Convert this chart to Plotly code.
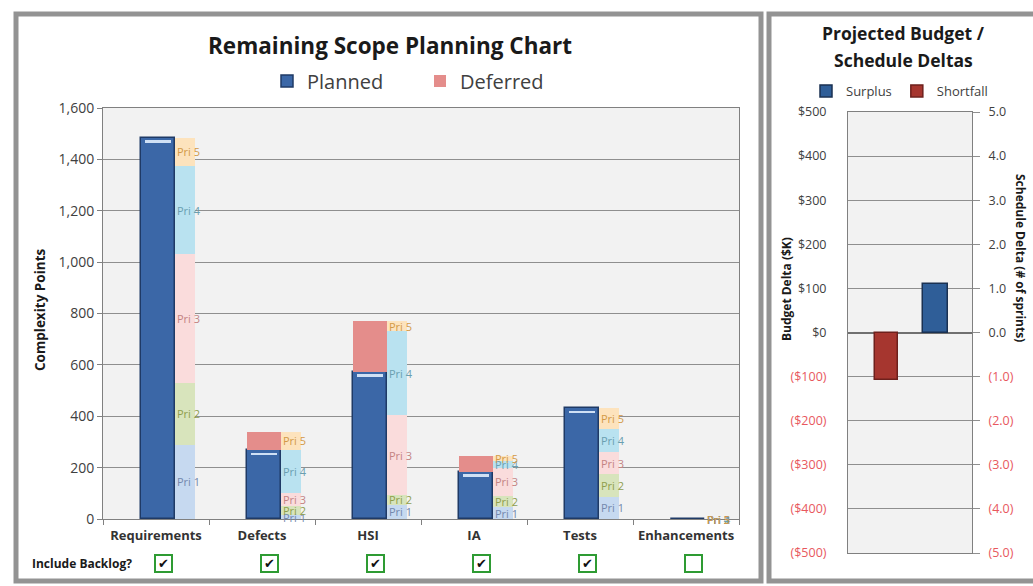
import plotly.graph_objects as go

# ---------------- data ----------------
categories = ["Requirements", "Defects", "HSI", "IA", "Tests", "Enhancements"]
planned = [1485, 268, 573, 184, 432, 0]
deferred = [0, 70, 197, 61, 0, 0]
pri_names = ["Pri 1", "Pri 2", "Pri 3", "Pri 4", "Pri 5"]
pri_values = {
    "Pri 1": [290, 15, 56, 45, 86, 0],
    "Pri 2": [240, 35, 36, 45, 89, 0],
    "Pri 3": [500, 50, 312, 110, 85, 0],
    "Pri 4": [345, 170, 326, 25, 90, 0],
    "Pri 5": [110, 68, 40, 20, 82, 0],
}
include_backlog = [True, True, True, True, True, False]
y_ticks = [0, 200, 400, 600, 800, 1000, 1200, 1400, 1600]

delta_categories = ["Budget", "Schedule"]
budget_delta_k = -108      # $K  (shortfall)
schedule_delta_sprints = 1.1  # sprints (surplus)
budget_ticks = [500, 400, 300, 200, 100, 0, -100, -200, -300, -400, -500]
sched_ticks = [5, 4, 3, 2, 1, 0, -1, -2, -3, -4, -5]

# ---------------- styling ----------------
W, H = 1033, 586
def px(x): return x / W
def py(y): return 1 - y / H

FONT = "Open Sans"
pri_fill = {"Pri 1": "#c6d9f0", "Pri 2": "#d8e4bc", "Pri 3": "#fadcdc",
            "Pri 4": "#b9e2f0", "Pri 5": "#fde3bd"}
pri_text = {"Pri 1": "#7488ad", "Pri 2": "#8f9e4c", "Pri 3": "#c48383",
            "Pri 4": "#6a9fb0", "Pri 5": "#d39a47"}

BLUE_OFF, BLUE_W = -0.144, 0.322
PRI_OFF, PRI_W = 0.178, 0.19

fig = go.Figure()

# planned
fig.add_trace(go.Bar(
    x=categories, y=planned, name="Planned", base=[0] * len(categories),
    offset=BLUE_OFF, width=BLUE_W,
    marker=dict(color="#3b67a7", line=dict(color="#1f3a66", width=1.5)),
    legend="legend", hoverinfo="skip"))
# deferred on top of planned
fig.add_trace(go.Bar(
    x=categories, y=deferred, name="Deferred", base=planned,
    offset=BLUE_OFF, width=BLUE_W,
    marker=dict(color="#e48d8b", line=dict(width=0)),
    legend="legend", hoverinfo="skip"))
# highlight strip at top of planned
hl_h = [10 if p > 0 else 0 for p in planned]
hl_base = [p - 20 if p > 0 else 0 for p in planned]
fig.add_trace(go.Bar(
    x=categories, y=hl_h, base=hl_base, offset=BLUE_OFF + 0.04, width=BLUE_W - 0.08,
    marker=dict(color="#cfe0f5", line=dict(width=0)), showlegend=False, hoverinfo="skip"))

# priority breakdown bars
cum = [0] * len(categories)
annotations = []
for pn in pri_names:
    vals = pri_values[pn]
    fig.add_trace(go.Bar(
        x=categories, y=vals, base=list(cum), offset=PRI_OFF, width=PRI_W,
        marker=dict(color=pri_fill[pn], line=dict(width=0)),
        showlegend=False, hoverinfo="skip"))
    for i, v in enumerate(vals):
        annotations.append(dict(
            x=i + PRI_OFF, y=cum[i] + v / 2, xref="x", yref="y",
            text=pn, showarrow=False, xanchor="left", yanchor="middle",
            font=dict(family=FONT, size=11, color=pri_text[pn])))
    cum = [c + v for c, v in zip(cum, vals)]

# right chart bars
fig.add_trace(go.Bar(
    x=[delta_categories[1]], y=[schedule_delta_sprints], name="Surplus",
    xaxis="x2", yaxis="y3", offset=-0.29, width=0.4,
    marker=dict(color="#2f5e98", line=dict(color="#1a3152", width=1.5)),
    legend="legend2", hoverinfo="skip"))
fig.add_trace(go.Bar(
    x=[delta_categories[0]], y=[budget_delta_k], name="Shortfall",
    xaxis="x2", yaxis="y2", offset=-0.065, width=0.37,
    marker=dict(color="#a6362f", line=dict(color="#6e201c", width=1.5)),
    legend="legend2", hoverinfo="skip"))

NEG = "#e8585e"
def money(v):
    s = "${:,}".format(abs(v))
    if v < 0:
        return "<span style='color:" + NEG + "'>(" + s + ")</span>"
    return s

def sprint(v):
    s = "{:.1f}".format(abs(v))
    if v < 0:
        return "<span style='color:" + NEG + "'>(" + s + ")</span>"
    return s

# checkboxes
for i, chk in enumerate(include_backlog):
    annotations.append(dict(
        x=i + 0.075, xref="x", y=py(563), yref="paper",
        text="✔" if chk else " ", showarrow=False,
        font=dict(family="DejaVu Sans", size=13, color="#111111"),
        bordercolor="#2e9b33", borderwidth=2, borderpad=0, bgcolor="#ffffff",
        width=15, height=15, xanchor="center", yanchor="middle"))

def label(x, y, text, size, angle=0, anchor="center"):
    return dict(x=px(x), y=py(y), xref="paper", yref="paper", text=text,
                textangle=angle, showarrow=False, xanchor=anchor, yanchor="middle",
                font=dict(family=FONT, size=size, color="#1a1a1a"))

annotations += [
    label(30, 563, "<b>Include Backlog?</b>", 12, anchor="left"),
    label(390, 45, "<b>Remaining Scope Planning Chart</b>", 22.5),
    label(40, 310, "<b>Complexity Points</b>", 13.5, angle=-90),
    label(903, 33, "<b>Projected Budget /</b>", 17.5),
    label(903, 60, "<b>Schedule Deltas</b>", 17.5),
    label(786, 289, "<b>Budget Delta ($K)</b>", 12, angle=-90),
    label(1021, 258, "<b>Schedule Delta (# of sprints)</b>", 12, angle=90),
]

shapes = [
    dict(type="rect", xref="paper", yref="paper", x0=px(16), x1=px(761), y0=py(581), y1=py(14),
         line=dict(color="#939393", width=5), layer="below"),
    dict(type="rect", xref="paper", yref="paper", x0=px(769), x1=px(1040), y0=py(581), y1=py(14),
         line=dict(color="#939393", width=5), layer="below"),
]

grid = "#8f8f8f"
fig.update_layout(
    width=W, height=H, margin=dict(l=0, r=0, t=0, b=0, autoexpand=False),
    paper_bgcolor="#ffffff", plot_bgcolor="#f2f2f2",
    barmode="overlay", bargap=0,
    font=dict(family=FONT, color="#404040"),
    annotations=annotations, shapes=shapes,
    xaxis=dict(domain=[px(103), px(739)], type="category", range=[-0.5, 5.5],
               showline=True, linecolor="#808080", mirror=True, automargin=False,
               ticks="outside", tickson="boundaries", ticklen=5, tickcolor="#808080",
               ticklabelstandoff=4, tickangle=0,
               tickfont=dict(family=FONT, size=13, color="#333333", weight="bold"),
               fixedrange=True),
    yaxis=dict(domain=[py(519), py(108)], range=[0, 1600], tickvals=y_ticks,
               tickformat=",", showline=True, linecolor="#808080", mirror=True,
               gridcolor=grid, gridwidth=1, zeroline=False, automargin=False,
               ticks="outside", ticklen=5, tickcolor="#808080",
               tickfont=dict(family=FONT, size=14, color="#404040")),
    xaxis2=dict(domain=[px(848), px(972)], anchor="y2", type="category",
                categoryarray=delta_categories, range=[-0.5, 1.5], automargin=False,
                showticklabels=False, showline=True, linecolor="#808080", mirror=True,
                ticks=""),
    yaxis2=dict(domain=[py(553), py(112)], anchor="x2", range=[-500, 500],
                tickvals=budget_ticks, ticktext=[money(v) for v in budget_ticks],
                showline=True, linecolor="#808080", mirror=True, automargin=False,
                gridcolor=grid, zeroline=True, zerolinecolor="#707070", zerolinewidth=1.5,
                ticks="", ticklabelstandoff=18,
                tickfont=dict(family=FONT, size=12.5, color="#404040")),
    yaxis3=dict(overlaying="y2", side="right", anchor="x2", range=[-5, 5],
                tickvals=sched_ticks, ticktext=[sprint(v) for v in sched_ticks],
                showgrid=False, zeroline=False, ticks="outside", ticklen=7, tickcolor=grid,
                ticklabelstandoff=6,
                automargin=False, tickfont=dict(family=FONT, size=12.5, color="#404040")),
    legend=dict(orientation="h", x=px(267), y=py(81), xanchor="left", yanchor="middle",
                font=dict(family=FONT, size=20, color="#404040"),
                entrywidth=108, entrywidthmode="pixels", bgcolor="rgba(0,0,0,0)"),
    legend2=dict(orientation="h", x=px(806), y=py(91), xanchor="left", yanchor="middle",
                 font=dict(family=FONT, size=13, color="#404040"),
                 bgcolor="rgba(0,0,0,0)", traceorder="normal"),
    showlegend=True,
)

fig.write_html("out.html")
